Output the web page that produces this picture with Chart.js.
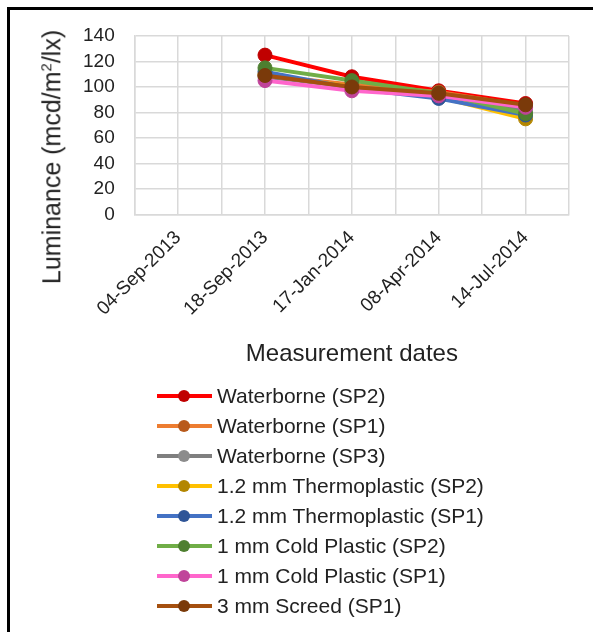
<!DOCTYPE html>
<html>
<head>
<meta charset="utf-8">
<script src="https://cdn.jsdelivr.net/npm/chart.js@4.4.1/dist/chart.umd.min.js"></script>
<style>
  html, body { margin: 0; padding: 0; background: #fff; overflow: hidden; }
  body { width: 593px; height: 632px; position: relative; font-family: "Liberation Sans", Arial, sans-serif; color: #222; }
  #frame { position: absolute; left: 7px; top: 7px; width: 600px; height: 640px; border-top: 3px solid #000; border-left: 3px solid #000; }
  #wrap { position: absolute; left: 0; top: 0; width: 593px; height: 385px; }
  #ytitle { position: absolute; left: 52px; top: 157px; transform: translate(-50%, -50%) rotate(-90deg); font-size: 25px; white-space: nowrap; }
  #ytitle sup { font-size: 15px; }
  #legend { position: absolute; left: 157px; top: 381px; }
  .item { display: flex; align-items: center; height: 30px; font-size: 21px; }
  .sw { position: relative; width: 55px; height: 30px; margin-right: 5px; }
  .sw .ln { position: absolute; left: 0; right: 0; top: 13px; height: 4px; }
  .sw .dot { position: absolute; left: 21px; top: 9px; width: 12px; height: 12px; border-radius: 50%; }
</style>
</head>
<body>
<div id="frame"></div>
<div id="wrap"><canvas id="chart"></canvas></div>
<div id="ytitle">Luminance (mcd/m<sup>2</sup>/lx)</div>
<div id="legend"></div>
<script>
// fechas (una etiqueta cada dos divisiones, como en el original)
const categorias = ['', '04-Sep-2013', '', '18-Sep-2013', '', '17-Jan-2014', '', '08-Apr-2014', '', '14-Jul-2014', ''];

const nombres = [
  'Waterborne (SP2)',
  'Waterborne (SP1)',
  'Waterborne (SP3)',
  '1.2 mm Thermoplastic (SP2)',
  '1.2 mm Thermoplastic (SP1)',
  '1 mm Cold Plastic (SP2)',
  '1 mm Cold Plastic (SP1)',
  '3 mm Screed (SP1)'
];

const waterborneSP2   = [null, null, null, 125, null, 108, null, 97, null, 87, null];
const waterborneSP1   = [null, null, null, 109, null, 102, null, 96, null, 85, null];
const waterborneSP3   = [null, null, null, 108, null, 100, null, 94, null, 81, null];
const thermo12SP2     = [null, null, null, 110, null, 100, null, 92, null, 75, null];
const thermo12SP1     = [null, null, null, 112, null, 99, null, 91, null, 78, null];
const coldPlasticSP2  = [null, null, null, 115, null, 105, null, 95, null, 79, null];
const coldPlasticSP1  = [null, null, null, 105, null, 97, null, 93, null, 84, null];
const screedSP1       = [null, null, null, 109, null, 100, null, 95, null, 86, null];

const ticksY = [0, 20, 40, 60, 80, 100, 120, 140];

const series = [waterborneSP2, waterborneSP1, waterborneSP3, thermo12SP2, thermo12SP1, coldPlasticSP2, coldPlasticSP1, screedSP1];
const colores = ['#ff0000', '#ed7d31', '#7f7f7f', '#ffc000', '#4472c4', '#70ad47', '#ff66cc', '#a5500f'];
const coloresPunto = ['#c00000', '#b85a1c', '#8c8c8c', '#b38600', '#2f5597', '#4e7f30', '#c0449a', '#7a3a0a'];

const fuente = '"Liberation Sans", Arial, sans-serif';

const ctx = document.getElementById('chart').getContext('2d');
new Chart(ctx, {
  type: 'line',
  data: {
    labels: categorias,
    datasets: series.map((s, i) => ({
      label: nombres[i],
      data: s,
      borderColor: colores[i],
      borderWidth: 4,
      pointRadius: 7,
      pointHoverRadius: 7,
      pointBackgroundColor: coloresPunto[i],
      pointBorderColor: coloresPunto[i],
      pointBorderWidth: 1,
      spanGaps: true,
      fill: false,
      order: series.length - i
    }))
  },
  options: {
    responsive: true,
    maintainAspectRatio: false,
    animation: false,
    layout: { padding: { left: 63, right: 24, top: 36, bottom: 16 } },
    plugins: {
      legend: { display: false },
      tooltip: { enabled: false }
    },
    scales: {
      x: {
        offset: false,
        afterFit: axis => { axis.paddingRight = 0; },
        grid: { color: '#d9d9d9', lineWidth: 1.5, drawTicks: false },
        border: { color: '#d9d9d9', width: 1.5 },
        ticks: {
          autoSkip: false,
          minRotation: 45,
          maxRotation: 45,
          padding: 12,
          color: '#222',
          font: { family: fuente, size: 19 }
        },
        title: {
          display: true,
          text: 'Measurement dates',
          color: '#222',
          padding: { top: 8, bottom: 0 },
          font: { family: fuente, size: 24 }
        }
      },
      y: {
        min: 0,
        max: 140,
        afterBuildTicks: axis => { axis.ticks = ticksY.map(v => ({ value: v })); },
        grid: { color: '#d9d9d9', lineWidth: 1.5, drawTicks: false },
        border: { color: '#d9d9d9', width: 1.5 },
        ticks: {
          autoSkip: false,
          padding: 20,
          color: '#222',
          font: { family: fuente, size: 19 }
        }
      }
    }
  }
});

// Leyenda en columna
const leyenda = document.getElementById('legend');
nombres.forEach((n, i) => {
  const fila = document.createElement('div');
  fila.className = 'item';
  fila.innerHTML = '<div class="sw"><div class="ln" style="background:' + colores[i] + '"></div>' +
    '<div class="dot" style="background:' + coloresPunto[i] + '"></div></div>';
  const txt = document.createElement('span');
  txt.textContent = n;
  fila.appendChild(txt);
  leyenda.appendChild(fila);
});
</script>
</body>
</html>
